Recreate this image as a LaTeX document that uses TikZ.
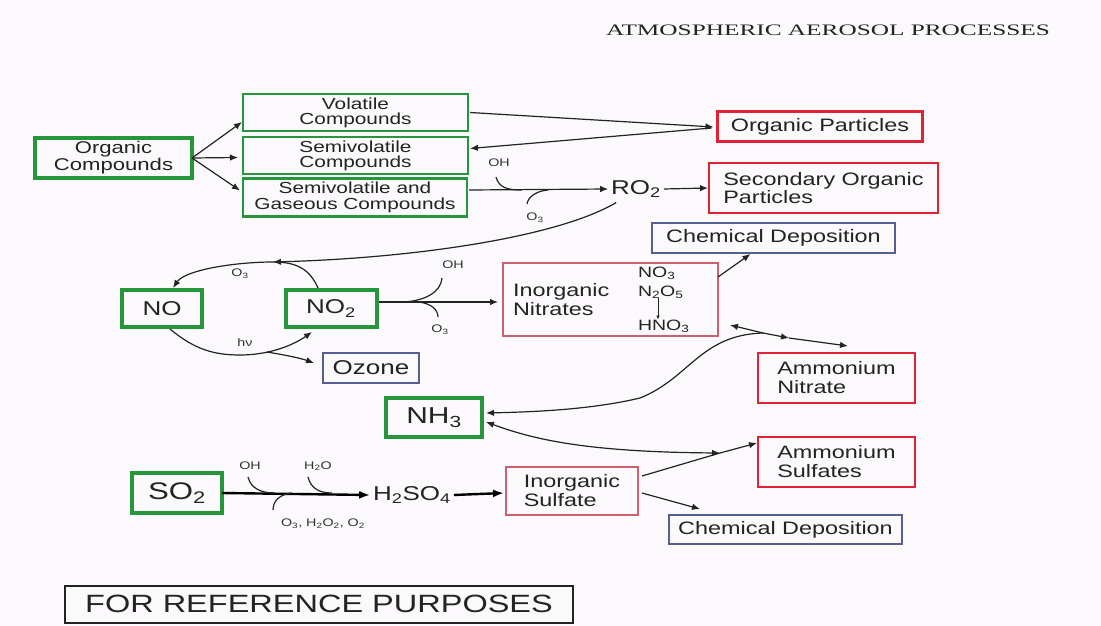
\documentclass[tikz,border=0pt]{standalone}
\usepackage{fontspec}
\setmainfont{Liberation Sans}
\newfontfamily\boxfont[FakeStretch=1.3]{Liberation Sans}
\newfontfamily\titlefont[FakeStretch=1.58]{Liberation Serif}
\usetikzlibrary{arrows.meta}
\definecolor{bgcol}{RGB}{251,249,252}
\definecolor{gbox}{RGB}{38,150,58}
\definecolor{rbox}{RGB}{222,35,55}
\definecolor{pbox}{RGB}{205,95,110}
\definecolor{bbox}{RGB}{85,95,150}
\definecolor{ink}{RGB}{35,35,35}
\newcommand{\fsz}[2]{\boxfont\fontsize{#1}{#2}\selectfont}
\begin{document}
\begin{tikzpicture}[x=1pt,y=-1pt,
  >={Latex[length=8pt,width=6.5pt]},
  every node/.style={inner sep=0pt, outer sep=0pt, text=ink},
  gbig/.style={draw=gbox, line width=4pt, align=center},
  gmid/.style={draw=gbox, line width=2.6pt, align=center},
  rboxs/.style={draw=rbox, line width=2.4pt, align=left},
  pboxs/.style={draw=pbox, line width=1.5pt, align=left},
  bboxs/.style={draw=bbox, line width=1.5pt, align=center},
  conn/.style={line width=1.2pt, draw=ink},
  arrow/.style={conn,->},
  darrow/.style={conn,<->},
  thick arrow/.style={line width=2.4pt, draw=black, -{Latex[length=11pt,width=8pt]}},
  lbl/.style={font=\fsz{11}{12}, text=black!80},
]
\fill[bgcol] (0,0) rectangle (1101,626);
\useasboundingbox (0,0) rectangle (1101,626);

% title
\node[font=\titlefont\fontsize{16}{16}\selectfont] (title) at (828,30) {ATMOSPHERIC AEROSOL PROCESSES};

% organic part
\node[gbig, minimum width=157pt, minimum height=40pt, font=\fsz{17}{15}] (oc) at (113.5,158) {Organic\\Compounds};
\node[gmid, minimum width=225pt, minimum height=37pt, font=\fsz{16}{15}] (vol) at (355.5,112.5) {Volatile\\Compounds};
\node[gmid, minimum width=225pt, minimum height=37pt, font=\fsz{16}{15}] (semi) at (355.5,155.5) {Semivolatile\\Compounds};
\node[gmid, minimum width=224pt, minimum height=38pt, font=\fsz{16}{16}] (sg) at (355,197.5) {Semivolatile and\\Gaseous Compounds};
\node[rboxs, minimum width=205pt, minimum height=30pt, font=\fsz{18}{18}] (op) at (820,126.5) {Organic Particles};
\node[rboxs, minimum width=229pt, minimum height=50pt, font=\fsz{18}{18}] (sop) at (823.5,188) {Secondary Organic\\Particles};
\node[font=\fsz{20}{20}, inner sep=3pt] (ro2) at (636,189) {RO\textsubscript{2}};
\node[bboxs, minimum width=243pt, minimum height=30pt, font=\fsz{18}{18}] (cdt) at (773.5,238) {Chemical Deposition};

% nitrogen part
\node[gbig, minimum width=80pt, minimum height=37pt, font=\fsz{20}{20}] (no) at (162,308.5) {NO};
\node[gbig, minimum width=91pt, minimum height=37pt, font=\fsz{20}{20}] (no2) at (331,308.5) {NO\textsubscript{2}};
\node[bboxs, minimum width=96pt, minimum height=30pt, font=\fsz{20}{20}] (oz) at (371,368) {Ozone};
\node[pboxs, minimum width=215pt, minimum height=73pt] (inn) at (610.5,299.5) {};
\node[anchor=west, align=left, font=\fsz{18}{19}] (inntxt) at (513,300) {Inorganic\\Nitrates};
\node[anchor=west, font=\fsz{15}{15}] (no3) at (638,273) {NO\textsubscript{3}};
\node[anchor=west, font=\fsz{15}{15}] (n2o5) at (638,292) {N\textsubscript{2}O\textsubscript{5}};
\node[anchor=west, font=\fsz{15}{15}] (hno3) at (638,326) {HNO\textsubscript{3}};
\node[rboxs, minimum width=157pt, minimum height=50pt, font=\fsz{18}{19}] (an) at (836.5,378) {Ammonium\\Nitrate};
\node[gbig, minimum width=96pt, minimum height=39pt, font=\fsz{23}{23}] (nh3) at (434,417.5) {NH\textsubscript{3}};

% sulfur part
\node[gbig, minimum width=90pt, minimum height=40pt, font=\fsz{24}{24}] (so2) at (177,493) {SO\textsubscript{2}};
\node[font=\fsz{20}{20}, inner sep=3pt] (h2so4) at (412,495) {H\textsubscript{2}SO\textsubscript{4}};
\node[pboxs, minimum width=132pt, minimum height=48pt, font=\fsz{18}{19}] (is) at (572,491) {Inorganic\\Sulfate};
\node[rboxs, minimum width=157pt, minimum height=50pt, font=\fsz{18}{19}] (as) at (836.5,462) {Ammonium\\Sulfates};
\node[bboxs, minimum width=233pt, minimum height=29pt, font=\fsz{18}{18}] (cdb) at (785.5,529.5) {Chemical Deposition};

% reference box
\node[draw=ink, line width=2pt, minimum width=508pt, minimum height=37pt, font=\fsz{25}{25}] (ref) at (319,604) {FOR REFERENCE PURPOSES};

% small labels
\node[lbl] (l1) at (499,163) {OH};
\node[lbl] (l2) at (535,218) {O\textsubscript{3}};
\node[lbl] (l3) at (240,274) {O\textsubscript{3}};
\node[lbl] (l4) at (245,343) {hν};
\node[lbl] (l5) at (453,265) {OH};
\node[lbl] (l6) at (440,330) {O\textsubscript{3}};
\node[lbl] (l7) at (250,466) {OH};
\node[lbl] (l8) at (318,466) {H\textsubscript{2}O};
\node[lbl] (l9) at (323,524) {O\textsubscript{3}, H\textsubscript{2}O\textsubscript{2}, O\textsubscript{2}};

% coordinates
\coordinate (cyc) at (273,262);
\coordinate (hv) at (240,355);
\coordinate (hvb) at (267,352);
\coordinate (J1) at (763,333);
\coordinate (m1) at (789,338);
\coordinate (J2) at (720,453);
\coordinate (ohA) at (496,177);
\coordinate (ohB) at (522,190);
\coordinate (o3A) at (548,190);
\coordinate (o3B) at (527,204);
\coordinate (ohC) at (442,278);
\coordinate (ohD) at (403,302);
\coordinate (o3C) at (418,302);
\coordinate (o3D) at (438,317);
\coordinate (ohE) at (248,477);
\coordinate (ohF) at (275,493);
\coordinate (h2oA) at (308,477);
\coordinate (h2oB) at (332,493);
\coordinate (o3E) at (292,493);
\coordinate (o3F) at (273,510);

% organic connectors
\draw[arrow] (oc.east) -- ([xshift=-1pt,yshift=-9.5pt]vol.west);
\draw[arrow] (oc.east) -- ([xshift=-5pt,yshift=-2pt]semi.west);
\draw[arrow] (oc.east) -- ([xshift=-3pt,yshift=7pt]sg.west);
\draw[arrow] ([xshift=2pt]vol.east) -- ([xshift=-4pt,yshift=-0.5pt]op.west);
\draw[arrow] ([xshift=-6pt,yshift=-1.5pt]op.west) -- ([xshift=2pt,yshift=7pt]semi.east);
\draw[arrow] ([xshift=2pt,yshift=7.5pt]sg.east) -- (ro2.west);
\draw[conn] (ohA) .. controls (499,188) and (508,190) .. (ohB);
\draw[conn] (o3A) .. controls (536,191) and (528,197) .. (o3B);
\draw[arrow] (ro2.east) -- ([xshift=-1pt]sop.west);
\draw[arrow] ([xshift=8pt,yshift=-2pt]ro2.south west) .. controls (560,236) and (420,258) .. (cyc);

% nitrogen cycle
\draw[arrow] ([xshift=-13pt,yshift=2pt]no2.north) .. controls (310,270) and (298,262) .. (cyc)
  .. controls (235,262) and (185,270) .. ([xshift=11pt,yshift=2pt]no.north);
\draw[arrow] ([xshift=8pt,yshift=-2pt]no.south) .. controls (195,350) and (215,355) .. (hv)
  .. controls (268,355) and (292,346) .. ([xshift=-19pt,yshift=-5pt]no2.south);
\draw[arrow] (hvb) .. controls (285,355) and (300,358) .. ([xshift=-9pt,yshift=5pt]oz.west);
\draw[arrow] ([xshift=2pt,yshift=6.5pt]no2.east) -- ([xshift=-5pt,yshift=-2.5pt]inn.west);
\draw[conn] (ohC) .. controls (441,292) and (425,301) .. (ohD);
\draw[conn] (o3C) .. controls (430,303) and (438,309) .. (o3D);
\draw[arrow] ([yshift=-14pt]inn.north east) -- ([xshift=-23pt,yshift=-1pt]cdt.south);
\draw[conn, ->, >={Latex[length=4pt,width=3.5pt]}, line width=0.8pt] ([xshift=20pt]n2o5.south west) -- ([xshift=20pt]hno3.north west);
\draw[arrow] (J1) -- ([xshift=12pt,yshift=11pt]inn.south east);
\draw[arrow] (J1) -- (m1);
\draw[arrow] (m1) -- ([xshift=90pt,yshift=7pt]an.north west);
\draw[arrow] (J1) .. controls (700,335) and (690,378) .. (640,398)
  .. controls (590,410) and (530,412) .. ([xshift=4pt,yshift=4.5pt]nh3.east);

% ammonium sulfate
\draw[darrow] ([xshift=4pt,yshift=-4.5pt]nh3.east) .. controls (530,438) and (580,452) .. (J2);
\draw[conn] ([xshift=4pt,yshift=-9pt]is.north east) -- (J2);
\draw[arrow] (J2) -- ([xshift=-1pt,yshift=19pt]as.west);
\draw[arrow] ([xshift=4pt,yshift=-2pt]is.east) -- ([xshift=31pt,yshift=6pt]cdb.north west);

% sulfur chain
\draw[thick arrow] (so2.east) -- (h2so4.west);
\draw[conn] (ohE) .. controls (251,489) and (262,493) .. (ohF);
\draw[conn] (h2oA) .. controls (311,489) and (320,493) .. (h2oB);
\draw[conn] (o3E) .. controls (281,494) and (273,500) .. (o3F);
\draw[thick arrow] (h2so4.east) -- ([xshift=-2pt,yshift=-2pt]is.west);
\end{tikzpicture}
\end{document}
